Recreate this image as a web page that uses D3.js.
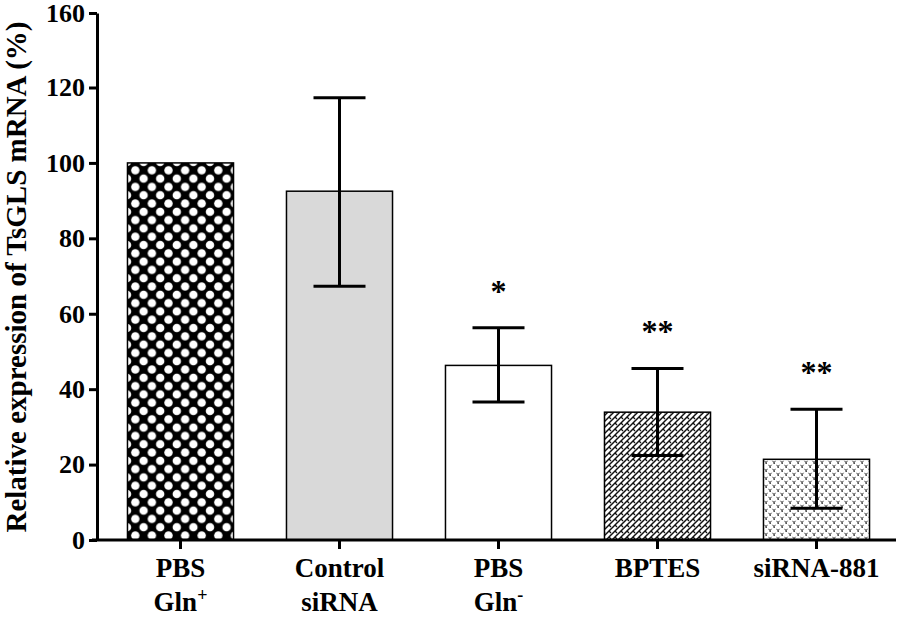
<!DOCTYPE html>
<html>
<head>
<meta charset="utf-8">
<script src="https://cdn.jsdelivr.net/npm/d3@7"></script>
<style>
  html, body { margin: 0; padding: 0; background: #fff; }
  svg { display: block; }
  text { font-family: "Liberation Serif", "Times New Roman", Times, serif; font-weight: bold; fill: #000; }
</style>
</head>
<body>
<svg id="chart" width="898" height="620"></svg>
<script>
const categories = ["PBS Gln+", "Control siRNA", "PBS Gln-", "BPTES", "siRNA-881"];
const labelLine1 = ["PBS", "Control", "PBS", "BPTES", "siRNA-881"];
const labelLine2 = ["Gln", "siRNA", "Gln", "", ""];
const labelSup = ["+", "", "-", "", ""];
const values = [100, 92.5, 46.3, 33.9, 21.4];
const errUpper = [null, 117.3, 56.3, 45.5, 34.7];
const errLower = [null, 67.3, 36.6, 22.4, 8.4];
const stars = ["", "", "*", "**", "**"];
const yTicks = [0, 20, 40, 60, 80, 100, 120, 160];
const fills = ["url(#pDots)", "#d9d9d9", "#ffffff", "url(#pBrick)", "url(#pVee)"];

const svg = d3.select("#chart");
const defs = svg.append("defs");

// Pattern 1: black with white dots (diagonal lattice)
const p1 = defs.append("pattern").attr("id", "pDots").attr("patternUnits", "userSpaceOnUse")
  .attr("width", 16.6).attr("height", 16.6).attr("x", 127).attr("y", 162);
p1.append("rect").attr("width", 16.6).attr("height", 16.6).attr("fill", "#000");
[[0,0],[16.6,0],[0,16.6],[16.6,16.6],[8.3,8.3]].forEach(([cx, cy]) => {
  p1.append("circle").attr("cx", cx).attr("cy", cy).attr("r", 4.2).attr("fill", "#fff");
});

// Pattern 4: brick-like diagonal slots
const p4 = defs.append("pattern").attr("id", "pBrick").attr("patternUnits", "userSpaceOnUse")
  .attr("width", 6).attr("height", 6);
p4.append("rect").attr("width", 6).attr("height", 6).attr("fill", "#fff");
p4.append("path").attr("d", "M-1,7 L7,-1").attr("stroke", "#111").attr("stroke-width", 1.5);
p4.append("path").attr("d", "M-1,1 L1,-1 M5,7 L7,5").attr("stroke", "#111").attr("stroke-width", 1.5);
p4.append("path").attr("d", "M3,3 L5,5").attr("stroke", "#111").attr("stroke-width", 1.3);

// Pattern 5: small v marks on white
const p5 = defs.append("pattern").attr("id", "pVee").attr("patternUnits", "userSpaceOnUse")
  .attr("width", 8).attr("height", 8);
p5.append("rect").attr("width", 8).attr("height", 8).attr("fill", "#fff");
p5.append("path").attr("d", "M0.5,0.8 L2,2.6 L3.5,0.8").attr("stroke", "#333").attr("stroke-width", 1).attr("fill", "none");
p5.append("rect").attr("x", 1.5).attr("y", 2.6).attr("width", 1.3).attr("height", 1.3).attr("fill", "#111");
p5.append("path").attr("d", "M4.5,4.8 L6,6.6 L7.5,4.8").attr("stroke", "#333").attr("stroke-width", 1).attr("fill", "none");
p5.append("rect").attr("x", 5.5).attr("y", 6.6).attr("width", 1.3).attr("height", 1.3).attr("fill", "#111");

const x = d3.scaleBand().domain(categories).range([101, 896]).paddingInner(0.333).paddingOuter(0.1665);
const y = d3.scaleLinear().domain([0, 120, 160]).range([540, 87.5, 13]);

// Bars
svg.append("g").selectAll("rect").data(categories).join("rect")
  .attr("x", d => x(d))
  .attr("y", (d, i) => y(values[i]))
  .attr("width", x.bandwidth())
  .attr("height", (d, i) => y(0) - y(values[i]))
  .attr("fill", (d, i) => fills[i])
  .attr("stroke", "#000")
  .attr("stroke-width", 1.5);

// Error bars
const eg = svg.append("g").attr("stroke", "#000").attr("stroke-width", 3);
categories.forEach((c, i) => {
  if (errUpper[i] == null) return;
  const cx = x(c) + x.bandwidth() / 2;
  eg.append("line").attr("x1", cx).attr("x2", cx).attr("y1", y(errUpper[i])).attr("y2", y(errLower[i]));
  eg.append("line").attr("x1", cx - 26).attr("x2", cx + 26).attr("y1", y(errUpper[i])).attr("y2", y(errUpper[i]));
  eg.append("line").attr("x1", cx - 26).attr("x2", cx + 26).attr("y1", y(errLower[i])).attr("y2", y(errLower[i]));
});

// Significance stars
svg.append("g").selectAll("text").data(categories).join("text")
  .attr("x", d => x(d) + x.bandwidth() / 2)
  .attr("y", (d, i) => y(errUpper[i] || 0) - 26)
  .attr("text-anchor", "middle")
  .attr("font-size", 32)
  .text((d, i) => stars[i]);

// Y axis
const yAxis = svg.append("g").attr("transform", "translate(97,0)")
  .call(d3.axisLeft(y).tickValues(yTicks).tickSize(8).tickSizeOuter(0).tickPadding(4));
yAxis.attr("font-family", null);
yAxis.select(".domain").attr("stroke-width", 3);
yAxis.selectAll(".tick line").attr("stroke-width", 3);
yAxis.selectAll(".tick text").attr("font-size", 26);

// X axis
const xAxis = svg.append("g").attr("transform", `translate(0,${y(0)})`)
  .call(d3.axisBottom(x).tickSize(9).tickSizeOuter(0).tickFormat(""));
xAxis.select(".domain").remove();
xAxis.selectAll(".tick line").attr("stroke-width", 3);
svg.append("line").attr("x1", 92).attr("x2", 896).attr("y1", y(0)).attr("y2", y(0))
  .attr("stroke", "#000").attr("stroke-width", 3);

// X labels
const xl = svg.append("g").selectAll("text").data(categories).join("text")
  .attr("text-anchor", "middle")
  .attr("font-size", 27)
  .attr("transform", d => `translate(${x(d) + x.bandwidth() / 2},0)`);
xl.append("tspan").attr("x", 0).attr("y", 577).text((d, i) => labelLine1[i]);
xl.each(function(d, i) {
  if (!labelLine2[i]) return;
  const t = d3.select(this).append("tspan").attr("x", 0).attr("y", 611);
  t.append("tspan").text(labelLine2[i]);
  if (labelSup[i]) t.append("tspan").attr("font-size", 18).attr("dy", -10).text(labelSup[i]);
});

// Y label
svg.append("text")
  .attr("transform", "translate(26,277) rotate(-90)")
  .attr("text-anchor", "middle")
  .attr("font-size", 29)
  .text("Relative expression of TsGLS mRNA (%)");
</script>
</body>
</html>
